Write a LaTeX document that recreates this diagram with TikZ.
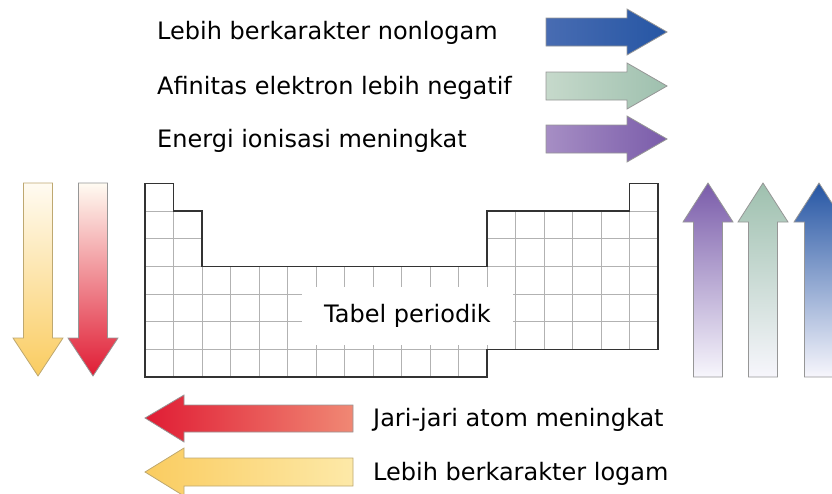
\documentclass[tikz,border=0pt]{standalone}
\usepackage{fontspec}
\setmainfont{DejaVu Sans}
\usetikzlibrary{positioning}

\definecolor{blueDark}{RGB}{38,86,164}
\definecolor{blueMid}{RGB}{72,108,178}
\definecolor{greenDark}{RGB}{158,192,174}
\definecolor{greenLight}{RGB}{198,217,203}
\definecolor{purpDark}{RGB}{122,92,170}
\definecolor{purpLight}{RGB}{166,142,196}
\definecolor{yellowDark}{RGB}{250,204,96}
\definecolor{yellowLight}{RGB}{253,233,168}
\definecolor{redDark}{RGB}{224,28,52}
\definecolor{redLight}{RGB}{240,136,116}
\definecolor{paleTop}{RGB}{255,251,242}
\definecolor{paleBot}{RGB}{247,246,252}
\definecolor{edgeGray}{RGB}{150,150,150}
\definecolor{edgeTan}{RGB}{190,168,112}

\begin{document}
\begin{tikzpicture}[
    x=1pt, y=-1pt,
    label/.style={font=\fontsize{24}{29}\selectfont, inner sep=0pt},
    barrow/.style={draw=edgeGray, line width=0.8pt},
    yarrow/.style={draw=edgeTan, line width=0.8pt},
    cellline/.style={draw=black!30, line width=0.8pt},
    tableedge/.style={draw=black!80, line width=1.3pt, line join=miter}
  ]
  \useasboundingbox (0,0) rectangle (832,493);

  % top arrows pointing right
  \foreach \yc/\cl/\cr in {32/blueMid/blueDark, 86/greenLight/greenDark,
                           139/purpLight/purpDark}
    \draw[barrow, left color=\cl, right color=\cr]
      (546,\yc-14) -- (627,\yc-14) -- (627,\yc-23) -- (667,\yc)
      -- (627,\yc+23) -- (627,\yc+14) -- (546,\yc+14) -- cycle;

  \node[label, anchor=base west] (nonlogam) at (157,39) {Lebih berkarakter nonlogam};
  \node[label, anchor=base west] (afinitas) at (157,94) {Afinitas elektron lebih negatif};
  \node[label, anchor=base west] (energi) at (157,147) {Energi ionisasi meningkat};

  % left arrows pointing down
  \draw[yarrow, top color=paleTop, bottom color=yellowDark]
    (23.5,183) -- (52.5,183) -- (52.5,338) -- (63,338) -- (38,376)
    -- (13,338) -- (23.5,338) -- cycle;
  \draw[barrow, top color=paleTop, bottom color=redDark]
    (78.5,183) -- (107.5,183) -- (107.5,338) -- (118,338) -- (93,376)
    -- (68,338) -- (78.5,338) -- cycle;

  % right arrows pointing up
  \foreach \xc/\ct in {708/purpDark, 763/greenDark, 819/blueDark}
    \draw[barrow, top color=\ct, bottom color=paleBot]
      (\xc-14.5,377) -- (\xc-14.5,222) -- (\xc-25,222) -- (\xc,183)
      -- (\xc+25,222) -- (\xc+14.5,222) -- (\xc+14.5,377) -- cycle;

  % bottom arrows pointing left
  \draw[barrow, left color=redDark, right color=redLight]
    (353,405) -- (184,405) -- (184,395) -- (145,418) -- (184,442)
    -- (184,432) -- (353,432) -- cycle;
  \draw[yarrow, left color=yellowDark, right color=yellowLight]
    (353,458) -- (184,458) -- (184,448) -- (145,472) -- (184,496)
    -- (184,486) -- (353,486) -- cycle;

  \node[label, anchor=base west] (jari) at (373,426) {Jari-jari atom meningkat};
  \node[label, anchor=base west] (logam) at (373,480) {Lebih berkarakter logam};

  % periodic table grid
  \begin{scope}[shift={(145,183.3)}, x=28.5pt, y=-27.67pt]
    \foreach \c in {0,17}
      \draw[cellline] (\c,0) rectangle ++(1,1);
    \foreach \r in {1,2}
      \foreach \c in {0,1,12,13,...,17}
        \draw[cellline] (\c,\r) rectangle ++(1,1);
    \foreach \r in {3,4,5}
      \foreach \c in {0,...,17}
        \draw[cellline] (\c,\r) rectangle ++(1,1);
    \foreach \c in {0,...,11}
      \draw[cellline] (\c,6) rectangle ++(1,1);
    \draw[tableedge] (0,0) -- (1,0) -- (1,1) -- (2,1) -- (2,3) -- (12,3)
      -- (12,1) -- (17,1) -- (17,0) -- (18,0) -- (18,6) -- (12,6)
      -- (12,7) -- (0,7) -- cycle;
  \end{scope}

  \node[label, fill=white, minimum width=211pt, minimum height=58pt]
    (tabel) at (407.5,316) {Tabel periodik};
\end{tikzpicture}
\end{document}
